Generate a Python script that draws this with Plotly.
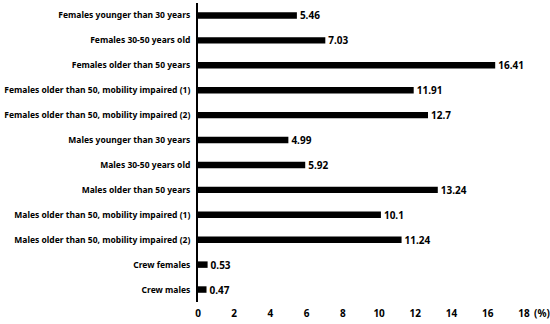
import plotly.graph_objects as go

categories = [
    "Females younger than 30 years",
    "Females 30-50 years old",
    "Females older than 50 years",
    "Females older than 50, mobility impaired (1)",
    "Females older than 50, mobility impaired (2)",
    "Males younger than 30 years",
    "Males 30-50 years old",
    "Males older than 50 years",
    "Males older than 50, mobility impaired (1)",
    "Males older than 50, mobility impaired (2)",
    "Crew females",
    "Crew males",
]
values = [5.46, 7.03, 16.41, 11.91, 12.7, 4.99, 5.92, 13.24, 10.1, 11.24, 0.53, 0.47]
tick_vals = [0, 2, 4, 6, 8, 10, 12, 14, 16, 18]
tick_text = [str(v) for v in tick_vals]

FONT = "Noto Sans"

fig = go.Figure(
    go.Bar(
        x=values,
        y=categories,
        orientation="h",
        marker=dict(color="black", line=dict(width=0)),
        width=0.26,
        text=[str(v) for v in values],
        textposition="outside",
        constraintext="none",
        textfont=dict(family=FONT, size=10, color="black", weight="bold"),
        cliponaxis=False,
    )
)

fig.update_layout(
    width=550,
    height=324,
    margin=dict(l=198, r=26, t=3, b=22),
    paper_bgcolor="white",
    plot_bgcolor="white",
    showlegend=False,
    font=dict(family=FONT, color="black"),
)
fig.update_xaxes(
    range=[0, 18],
    tickvals=tick_vals,
    ticktext=tick_text,
    showgrid=False,
    zeroline=False,
    showline=False,
    ticks="",
    automargin=False,
    ticklabelstandoff=4,
    tickfont=dict(family=FONT, size=10, color="black", weight="bold"),
)
fig.update_yaxes(
    categoryorder="array",
    categoryarray=categories[::-1],
    showgrid=False,
    zeroline=False,
    showline=True,
    linecolor="black",
    linewidth=2,
    ticks="",
    automargin=False,
    ticklabelstandoff=4,
    tickfont=dict(family=FONT, size=8.5, color="black", weight="bold"),
)
fig.add_annotation(
    x=1, xref="paper", y=0, yref="paper", yshift=-11, yanchor="middle",
    text="(%)", showarrow=False, xanchor="left", xshift=8,
    font=dict(family=FONT, size=10, color="black", weight="bold"),
)

fig.write_html(
    "out.html",
    config={"displayModeBar": False},
    post_script="document.body.style.margin='0';",
)
